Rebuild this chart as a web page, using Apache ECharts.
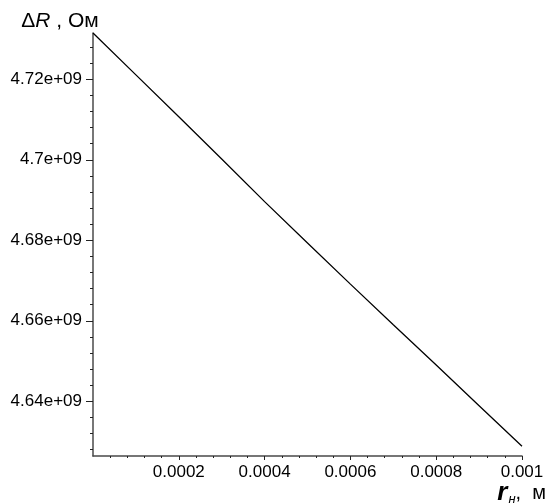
<!DOCTYPE html>
<html>
<head>
<meta charset="utf-8">
<script src="https://cdn.jsdelivr.net/npm/echarts@6/dist/echarts.min.js"></script>
<style>
  html, body { margin: 0; padding: 0; background: #ffffff; }
  #chart { width: 545px; height: 504px; }
</style>
</head>
<body>
<div id="chart"></div>
<script>
// Resistance change ΔR (Ом) against radius rн (м)
const radius = [0, 0.0001, 0.0002, 0.0003, 0.0004, 0.0005, 0.0006, 0.0007, 0.0008, 0.0009, 0.001];
const deltaR = [4.7315e9, 4.7211e9, 4.7107e9, 4.7002e9, 4.6896e9, 4.6793e9, 4.6691e9, 4.6590e9, 4.6490e9, 4.6389e9, 4.6288e9];

const xTickValues = [0.0002, 0.0004, 0.0006, 0.0008, 0.001];
const xTickLabels = ['0.0002', '0.0004', '0.0006', '0.0008', '0.001'];

const yTickValues = [4.64e9, 4.66e9, 4.68e9, 4.70e9, 4.72e9];
const yTickLabels = ['4.64e+09', '4.66e+09', '4.68e+09', '4.7e+09', '4.72e+09'];
const yMinorValues = [
  4.628e9, 4.632e9, 4.636e9,
  4.644e9, 4.648e9, 4.652e9, 4.656e9,
  4.664e9, 4.668e9, 4.672e9, 4.676e9,
  4.684e9, 4.688e9, 4.692e9, 4.696e9,
  4.704e9, 4.708e9, 4.712e9, 4.716e9,
  4.724e9, 4.728e9
];

const yRange = [4.6264e9, 4.7315e9];
const xRange = [0, 0.001];

const FONT = '"Liberation Sans", Arial, sans-serif';
const AXIS_COLOR = '#4a4a4a';

function labelFor(values, labels, v, tol) {
  for (let i = 0; i < values.length; i++) {
    if (Math.abs(values[i] - v) < tol) return labels[i];
  }
  return '';
}

const chart = echarts.init(document.getElementById('chart'), null, { renderer: 'canvas' });

chart.setOption({
  backgroundColor: '#ffffff',
  animation: false,
  grid: { left: 93, right: 23, top: 33, bottom: 48, outerBoundsMode: 'none', containLabel: false },
  xAxis: {
    type: 'value',
    min: xRange[0],
    max: xRange[1],
    interval: 0.0002,
    axisLine: { show: true, lineStyle: { color: AXIS_COLOR, width: 1.5 } },
    axisTick: { show: true, customValues: xTickValues, length: 4, lineStyle: { color: '#222', width: 1 } },
    minorTick: { show: true, splitNumber: 5, length: 2, lineStyle: { color: '#222', width: 1 } },
    splitLine: { show: false },
    axisLabel: {
      customValues: xTickValues,
      margin: 8,
      color: '#000',
      fontFamily: FONT,
      fontSize: 17,
      formatter: v => labelFor(xTickValues, xTickLabels, v, 1e-9)
    },
    name: '{r|r}{s|н}{n|,  м}',
    nameLocation: 'end',
    nameGap: 24,
    nameMoveOverlap: false,
    nameTextStyle: {
      align: 'right',
      verticalAlign: 'top',
      padding: [24, 0, 0, 0],
      rich: {
        r: { fontFamily: FONT, fontSize: 26, fontWeight: 'bold', fontStyle: 'italic', color: '#000' },
        s: { fontFamily: FONT, fontSize: 13, fontStyle: 'italic', color: '#000', verticalAlign: 'bottom', padding: [7, 0, 0, 1] },
        n: { fontFamily: FONT, fontSize: 20, color: '#000' }
      }
    }
  },
  yAxis: [
    {
      type: 'value',
      min: yRange[0],
      max: yRange[1],
      axisLine: { show: true, lineStyle: { color: AXIS_COLOR, width: 1.5 } },
      axisTick: { show: true, customValues: yTickValues, length: 7, lineStyle: { color: '#222', width: 1 } },
      splitLine: { show: false },
      axisLabel: {
        customValues: yTickValues,
        margin: 11,
        color: '#000',
        fontFamily: FONT,
        fontSize: 17,
        formatter: v => labelFor(yTickValues, yTickLabels, v, 1e3)
      },
      name: '{d|Δ}{i|R}{n| , Ом}',
      nameLocation: 'end',
      nameGap: 1,
      nameMoveOverlap: false,
      nameTextStyle: {
        align: 'center',
        verticalAlign: 'bottom',
        padding: [0, 66, 0, 0],
        rich: {
          d: { fontFamily: FONT, fontSize: 21, color: '#000' },
          i: { fontFamily: FONT, fontSize: 21, fontStyle: 'italic', color: '#000' },
          n: { fontFamily: FONT, fontSize: 21, color: '#000' }
        }
      }
    },
    {
      type: 'value',
      position: 'left',
      min: yRange[0],
      max: yRange[1],
      axisLine: { show: false },
      axisTick: { show: true, customValues: yMinorValues, length: 3, lineStyle: { color: '#222', width: 1 } },
      axisLabel: { show: false },
      splitLine: { show: false }
    }
  ],
  series: [
    {
      type: 'line',
      xAxisIndex: 0,
      yAxisIndex: 0,
      data: radius.map((r, i) => [r, deltaR[i]]),
      showSymbol: false,
      symbol: 'none',
      lineStyle: { color: '#000', width: 1.3 },
      silent: true
    }
  ]
});
</script>
</body>
</html>
